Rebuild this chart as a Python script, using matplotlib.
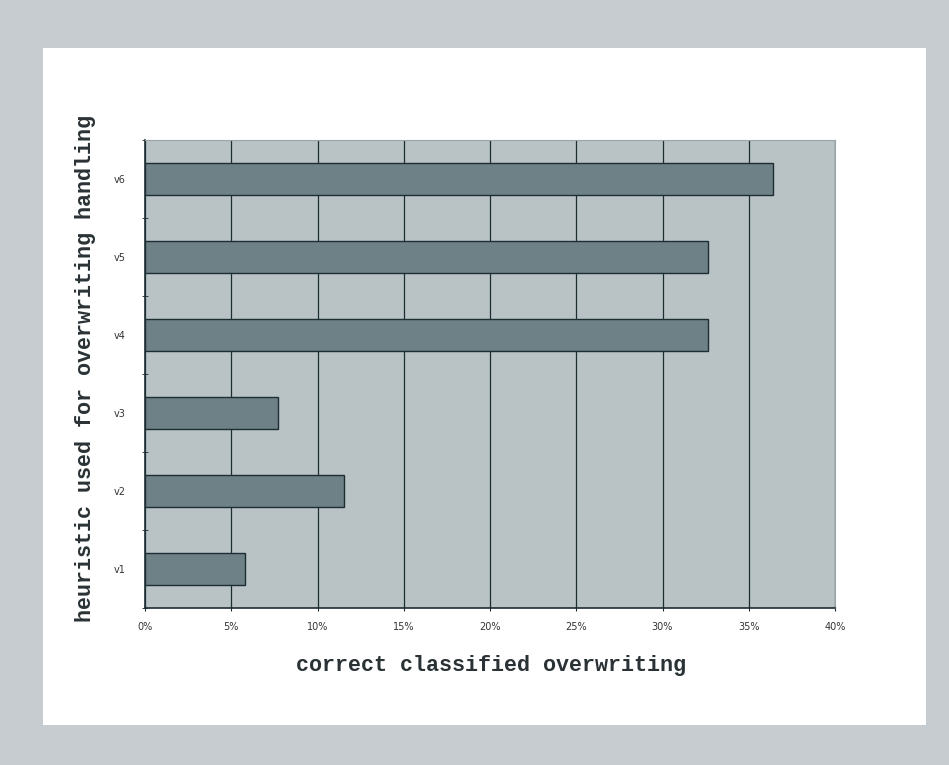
import matplotlib.pyplot as plt
from matplotlib.patches import Rectangle
from matplotlib.ticker import FuncFormatter

# values (percent of correctly classified overwriting)
heuristics = ['v1', 'v2', 'v3', 'v4', 'v5', 'v6']
correct = [5.8, 11.55, 7.7, 32.65, 32.65, 36.4]
xticks = [0, 5, 10, 15, 20, 25, 30, 35, 40]

frame_col = '#c6cccf'
plot_bg = '#b9c3c6'
bar_col = '#6e8186'
line_col = '#1d2e33'

fig = plt.figure(figsize=(9.49, 7.65), dpi=100)
fig.patch.set_facecolor(frame_col)

# white inner panel
fig.patches.append(Rectangle((43 / 949, 1 - 725 / 765), (926 - 43) / 949, (725 - 48) / 765,
                             transform=fig.transFigure, facecolor='white',
                             edgecolor='none', zorder=-5))

ax = fig.add_axes([145 / 949, 1 - 608 / 765, (835 - 145) / 949, (608 - 140) / 765])
ax.set_zorder(2)
ax.set_facecolor(plot_bg)

ypos = range(len(heuristics))
ax.barh(ypos, correct, height=0.41, color=bar_col, edgecolor=line_col, linewidth=1.0, zorder=3)

ax.set_xlim(0, 40)
ax.set_ylim(-0.5, len(heuristics) - 0.5)
ax.set_xticks(xticks)
ax.xaxis.set_major_formatter(FuncFormatter(lambda v, p: '%d%%' % v))
ax.set_yticks(list(ypos))
ax.set_yticklabels(heuristics)
ax.set_yticks([i - 0.5 for i in range(len(heuristics) + 1)], minor=True)

ax.grid(axis='x', color=line_col, linewidth=0.9, zorder=1)
ax.set_axisbelow(True)

ax.tick_params(axis='y', which='major', length=0, labelsize=7, pad=14, colors='#333333')
ax.tick_params(axis='y', which='minor', length=4, direction='inout', color=line_col)
ax.tick_params(axis='x', which='major', length=4, direction='inout', labelsize=7,
               pad=8, colors='#333333', color=line_col)

for side in ['left', 'bottom']:
    ax.spines[side].set_color(line_col)
    ax.spines[side].set_linewidth(1.2)
for side in ['top', 'right']:
    ax.spines[side].set_color('#9aa5a8')
    ax.spines[side].set_linewidth(0.8)

mono = {'family': ['Liberation Mono', 'DejaVu Sans Mono'], 'weight': 'bold', 'size': 15.7}
fig.text(491 / 949, 1 - 666 / 765, 'correct classified overwriting', ha='center', va='center',
         color='#2a3235', fontdict=mono)
fig.text(86 / 949, 1 - 368 / 765, 'heuristic used for overwriting handling', ha='center',
         va='center', rotation=90, color='#2a3235', fontdict=mono)

fig.savefig('out.png', dpi=100, facecolor=fig.get_facecolor())
